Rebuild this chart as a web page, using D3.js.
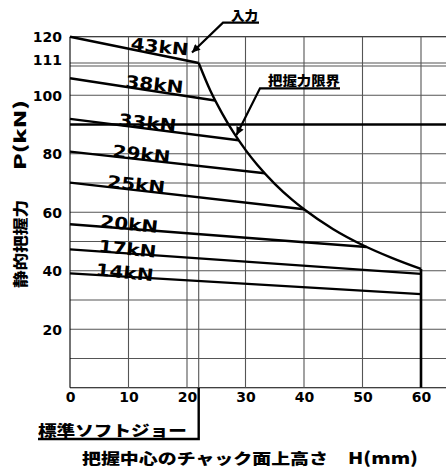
<!DOCTYPE html>
<html><head><meta charset="utf-8">
<script src="https://cdn.jsdelivr.net/npm/d3@7"></script>
<style>
html,body{margin:0;padding:0;background:#fff;}
svg{display:block;}
</style></head>
<body>
<script>
// ---- data ----
const seriesNames = ["43kN","38kN","33kN","29kN","25kN","20kN","17kN","14kN"];
const startP = [120, 105.8, 91.9, 80.7, 70.1, 55.9, 47.3, 39.1];
const endH   = [22, 24.8, 28.8, 33.3, 40, 50.7, 60, 60];
const endP   = [111, 98.2, 84.6, 73.3, 61.0, 48.1, 38.9, 32.0];
const limitH = [22, 24, 26, 28, 30, 32, 35, 38, 40, 45, 50, 55, 60];
const limitP = [111, 101.5, 93.8, 87.1, 81.3, 76.2, 69.7, 64.2, 61.0, 54.2, 48.8, 44.4, 40.6];
const limitLineP = 90;
const xTickValues = [0,10,20,30,40,50,60];
const yTickValues = [120,111,100,80,60,40,20];
const xGridValues = [0,10,20,22,30,40,50,60];
const yGridValues = [0,10,20,30,40,50,60,70,80,90,100,110,111,120];
const softJawH = 22;
const xTitleJa = "把握中心のチャック面上高さ";
const xTitleUnit = "H(mm)";
const yTitleJa = "静的把握力";
const yTitleUnit = "P(kN)";
const noteInput = "入力";
const noteLimit = "把握力限界";
const noteJaw = "標準ソフトジョー";

// ---- layout ----
const W = 446, H = 470;
const labelAtH = [10.3, 9.4, 8.2, 7.2, 6.3, 5.1, 4.8, 4.3];

const svg = d3.select("body").append("svg").attr("width", W).attr("height", H);
const x = d3.scaleLinear().domain([0,60]).range([70,421]);
const y = d3.scaleLinear().domain([0,120]).range([387.7,36.7]);
const xMax = x.invert(W);

const g = svg.append("g");
// grid
g.selectAll(".hg").data(yGridValues).join("line")
  .attr("x1", x(0)).attr("x2", x(xMax)).attr("y1", d=>y(d)).attr("y2", d=>y(d))
  .attr("stroke", d => (d===0||d===120) ? "#000" : "#555").attr("stroke-width", 1.1);
g.selectAll(".vg").data(xGridValues).join("line")
  .attr("x1", d=>x(d)).attr("x2", d=>x(d)).attr("y1", y(0)).attr("y2", y(120))
  .attr("stroke", d => d===0 ? "#000" : "#555").attr("stroke-width", 1.1);

// thick limit horizontal
g.append("line").attr("x1", x(0)).attr("x2", x(xMax)).attr("y1", y(limitLineP)).attr("y2", y(limitLineP))
  .attr("stroke","#000").attr("stroke-width",2.6);

// series lines
const line = d3.line().x(d=>x(d[0])).y(d=>y(d[1]));
seriesNames.forEach((n,i)=>{
  g.append("path").attr("d", line([[0,startP[i]],[endH[i],endP[i]]]))
   .attr("fill","none").attr("stroke","#000").attr("stroke-width",2.4);
});
// limit curve + vertical drop
const curve = limitH.map((h,i)=>[h,limitP[i]]);
g.append("path").attr("d", d3.line().x(d=>x(d[0])).y(d=>y(d[1])).curve(d3.curveMonotoneX)(curve))
  .attr("fill","none").attr("stroke","#000").attr("stroke-width",2.4);
g.append("line").attr("x1",x(60)).attr("x2",x(60)).attr("y1",y(limitP[limitP.length-1])).attr("y2",y(0))
  .attr("stroke","#000").attr("stroke-width",2.6);

// series labels
seriesNames.forEach((n,i)=>{
  const h = labelAtH[i];
  const p = startP[i] + (endP[i]-startP[i])*h/endH[i];
  const lx = x(h), ly = y(p) + 0.5;
  g.append("text").attr("x", lx).attr("y", ly)
   .attr("transform", `rotate(6,${lx},${ly})`)
   .attr("font-family","DejaVu Sans").attr("font-weight","bold").attr("font-size",17)
   .attr("textLength",58).attr("lengthAdjust","spacingAndGlyphs")
   .text(n);
});

// axes
const xAxis = d3.axisBottom(x).tickValues(xTickValues).tickSize(0).tickPadding(4).tickFormat(d3.format("d"));
const ax = svg.append("g").attr("transform",`translate(0,${y(0)})`).call(xAxis);
ax.select(".domain").remove();
ax.selectAll("text").attr("font-family","DejaVu Sans").attr("font-weight","bold").attr("font-size",14).attr("fill","#000");
const yAxis = d3.axisLeft(y).tickValues(yTickValues).tickSize(0).tickPadding(8).tickFormat(d3.format("d"));
const ay = svg.append("g").attr("transform",`translate(${x(0)},0)`).call(yAxis);
ay.select(".domain").remove();
ay.selectAll("text").attr("font-family","DejaVu Sans").attr("font-weight","bold").attr("font-size",14).attr("fill","#000")
  .attr("dy", d => d===111 ? "0.12em" : "0.36em");

// soft jaw leader
svg.append("path").attr("d", `M${x(softJawH)},${y(0)} V439 H38`)
  .attr("fill","none").attr("stroke","#000").attr("stroke-width",2.4);
svg.append("text").attr("x",38).attr("y",436).attr("font-family","Noto Sans CJK JP").attr("font-weight","900")
  .attr("font-size",15).attr("textLength",149).attr("lengthAdjust","spacingAndGlyphs").text(noteJaw);

// arrow marker
const defs = svg.append("defs");
defs.append("marker").attr("id","arr").attr("viewBox","0 0 10 10").attr("refX",10).attr("refY",5)
  .attr("markerWidth",10).attr("markerHeight",8).attr("markerUnits","userSpaceOnUse").attr("orient","auto")
  .append("path").attr("d","M0,0 L10,5 L0,10 z").attr("fill","#000");

// 入力
svg.append("path").attr("d","M259,22.7 H223 L192,52.5").attr("fill","none").attr("stroke","#000")
  .attr("stroke-width",2.2).attr("marker-end","url(#arr)");
svg.append("text").attr("x",231).attr("y",19.5).attr("font-family","Noto Sans CJK JP").attr("font-weight","900")
  .attr("font-size",13).attr("textLength",27).attr("lengthAdjust","spacingAndGlyphs").text(noteInput);
// 把握力限界
svg.append("path").attr("d","M340,88.3 H260 L236.5,135").attr("fill","none").attr("stroke","#000")
  .attr("stroke-width",2.2).attr("marker-end","url(#arr)");
svg.append("text").attr("x",268).attr("y",85).attr("font-family","Noto Sans CJK JP").attr("font-weight","900")
  .attr("font-size",13).attr("textLength",72).attr("lengthAdjust","spacingAndGlyphs").text(noteLimit);

// titles
const tf = s => s.attr("font-family","Noto Sans CJK JP").attr("font-weight","900").attr("font-size",15)
  .attr("lengthAdjust","spacingAndGlyphs");
svg.append("text").attr("x",82).attr("y",464).call(tf).attr("textLength",246).text(xTitleJa);
svg.append("text").attr("x",348).attr("y",464).call(tf).attr("font-size",16).attr("textLength",70).text(xTitleUnit);
svg.append("text").attr("transform","translate(26,288) rotate(-90)").call(tf).attr("textLength",88).text(yTitleJa);
svg.append("text").attr("transform","translate(26,170) rotate(-90)").call(tf).attr("font-size",16).attr("textLength",70).text(yTitleUnit);
</script>
</body></html>
